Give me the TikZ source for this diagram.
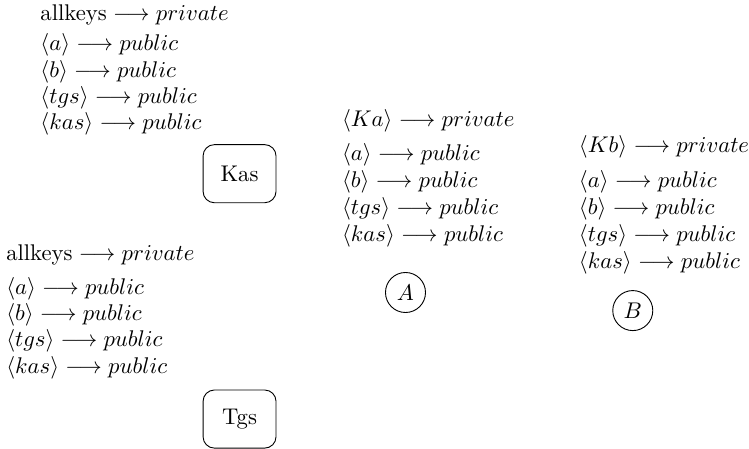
\documentclass[tikz,border=0pt]{standalone}
\usepackage{amsmath}
\begin{document}
\begin{tikzpicture}[
    keys/.style={anchor=north west, inner sep=0pt, align=left, font=\fontsize{10pt}{11.6pt}\selectfont},
    server/.style={draw, rounded corners=5pt, minimum width=1.13cm, minimum height=0.9cm},
    agent/.style={draw, circle, minimum size=0.62cm, inner sep=0pt}]
    \useasboundingbox (0,0) rectangle (11.6,6.95);
    % key tables
    \node[keys] (kaskeys) at (0.62,6.89) {$\text{allkeys} \longrightarrow private$\\[2pt]
        $\langle a \rangle \longrightarrow public$\\ $\langle b \rangle \longrightarrow public$\\
        $\langle tgs \rangle \longrightarrow public$\\ $\langle kas \rangle \longrightarrow public$};
    \node[keys] (tgskeys) at (0.09,3.16) {$\text{allkeys} \longrightarrow private$\\[3pt]
        $\langle a \rangle \longrightarrow public$\\ $\langle b \rangle \longrightarrow public$\\
        $\langle tgs \rangle \longrightarrow public$\\ $\langle kas \rangle \longrightarrow public$};
    \node[keys, font=\fontsize{10pt}{11.9pt}\selectfont] (akeys) at (5.29,5.26) {$\langle Ka \rangle \longrightarrow private$\\[3pt]
        $\langle a \rangle \longrightarrow public$\\ $\langle b \rangle \longrightarrow public$\\
        $\langle tgs \rangle \longrightarrow public$\\ $\langle kas \rangle \longrightarrow public$};
    \node[keys, font=\fontsize{10pt}{11.9pt}\selectfont] (bkeys) at (8.96,4.86) {$\langle Kb \rangle \longrightarrow private$\\[3.5pt]
        $\langle a \rangle \longrightarrow public$\\ $\langle b \rangle \longrightarrow public$\\
        $\langle tgs \rangle \longrightarrow public$\\ $\langle kas \rangle \longrightarrow public$};
    % principals
    \node[server] (kas) at (3.71,4.26) {Kas};
    \node[server] (tgs) at (3.71,0.46) {Tgs};
    \node[agent] (a) at (6.28,2.42) {$A$};
    \node[agent] (b) at (9.8,2.14) {$B$};
\end{tikzpicture}
\end{document}
